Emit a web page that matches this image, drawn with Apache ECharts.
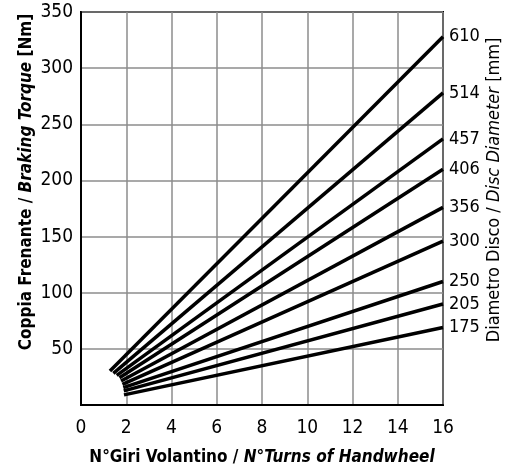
<!DOCTYPE html>
<html><head><meta charset="utf-8">
<script src="https://cdn.jsdelivr.net/npm/echarts@6/dist/echarts.min.js"></script>
<style>html,body{margin:0;padding:0;background:#fff}#c{width:516px;height:471px}</style>
</head><body><div id="c"></div>
<script>
// Disc diameters (mm), one line each
var diameters = ['610','514','457','406','356','300','250','205','175'];
// start points of each line [turns, torque]
var startTurns  = [1.28, 1.43, 1.58, 1.70, 1.77, 1.83, 1.87, 1.89, 1.90];
var startTorque = [30.3, 28.2, 26.4, 24.3, 21.4, 18.4, 15.5, 12.6, 9.0];
// end points at 16 turns
var endTurns = 16;
var endTorque = [328, 278, 237, 210, 176, 146, 110, 90, 69];
var xTicks = [0, 16, 2];     // min, max, interval
var yTicks = [0, 350, 50];

var FONT = '"DejaVu Sans Condensed", "DejaVu Sans", sans-serif';
var series = diameters.map(function (d, i) {
  return {
    name: d, type: 'line', symbol: 'none', silent: true,
    lineStyle: { color: '#000', width: 3.5, cap: 'butt' },
    data: [[startTurns[i], startTorque[i]], [endTurns, endTorque[i]]],
    endLabel: { show: true, formatter: '{a}', color: '#000', fontSize: 18, fontFamily: FONT, distance: 6 }
  };
});

var chart = echarts.init(document.getElementById('c'), null, { renderer: 'canvas' });
chart.setOption({
  animation: false,
  backgroundColor: '#fff',
  grid: { left: 81, right: 73, top: 12, bottom: 64, show: true, borderColor: '#000', borderWidth: 2, backgroundColor: 'transparent' },
  xAxis: {
    type: 'value', min: xTicks[0], max: xTicks[1], interval: xTicks[2],
    axisLine: { show: true, lineStyle: { color: '#000', width: 2 } },
    axisTick: { show: false },
    axisLabel: { color: '#000', fontSize: 19, fontFamily: FONT, margin: 14 },
    splitLine: { show: true, lineStyle: { color: '#8c8c8c', width: 1.5 } },
    name: 'N°Giri Volantino / {i|N°Turns of Handwheel}',
    nameLocation: 'middle', nameGap: 44,
    nameTextStyle: { color: '#000', fontSize: 17, fontWeight: 'bold', fontFamily: FONT,
      rich: { i: { fontStyle: 'italic', fontWeight: 'bold', fontSize: 17, fontFamily: FONT, color: '#000' } } }
  },
  yAxis: {
    type: 'value', min: yTicks[0], max: yTicks[1], interval: yTicks[2],
    axisLine: { show: true, lineStyle: { color: '#000', width: 2 } },
    axisTick: { show: false },
    axisLabel: { color: '#000', fontSize: 19, fontFamily: FONT, margin: 8,
      formatter: function (v) { return v === 0 ? '' : v; } },
    splitLine: { show: true, lineStyle: { color: '#8c8c8c', width: 1.5 } }
  },
  graphic: [
    { type: 'text', x: 27, y: 182, rotation: Math.PI / 2, silent: true,
      style: { text: 'Coppia Frenante / {i|Braking Torque} [Nm]', align: 'center', verticalAlign: 'middle',
        fill: '#000', fontSize: 17, fontWeight: 'bold', fontFamily: FONT,
        rich: { i: { fontStyle: 'italic', fontWeight: 'bold', fontSize: 17, fontFamily: FONT, fill: '#000' } } } },
    { type: 'text', x: 494, y: 190, rotation: Math.PI / 2, silent: true,
      style: { text: 'Diametro Disco / {i|Disc Diameter} [mm]', align: 'center', verticalAlign: 'middle',
        fill: '#000', fontSize: 18, fontFamily: FONT,
        rich: { i: { fontStyle: 'italic', fontSize: 18, fontFamily: FONT, fill: '#000' } } } }
  ],
  series: series
});
</script></body></html>
